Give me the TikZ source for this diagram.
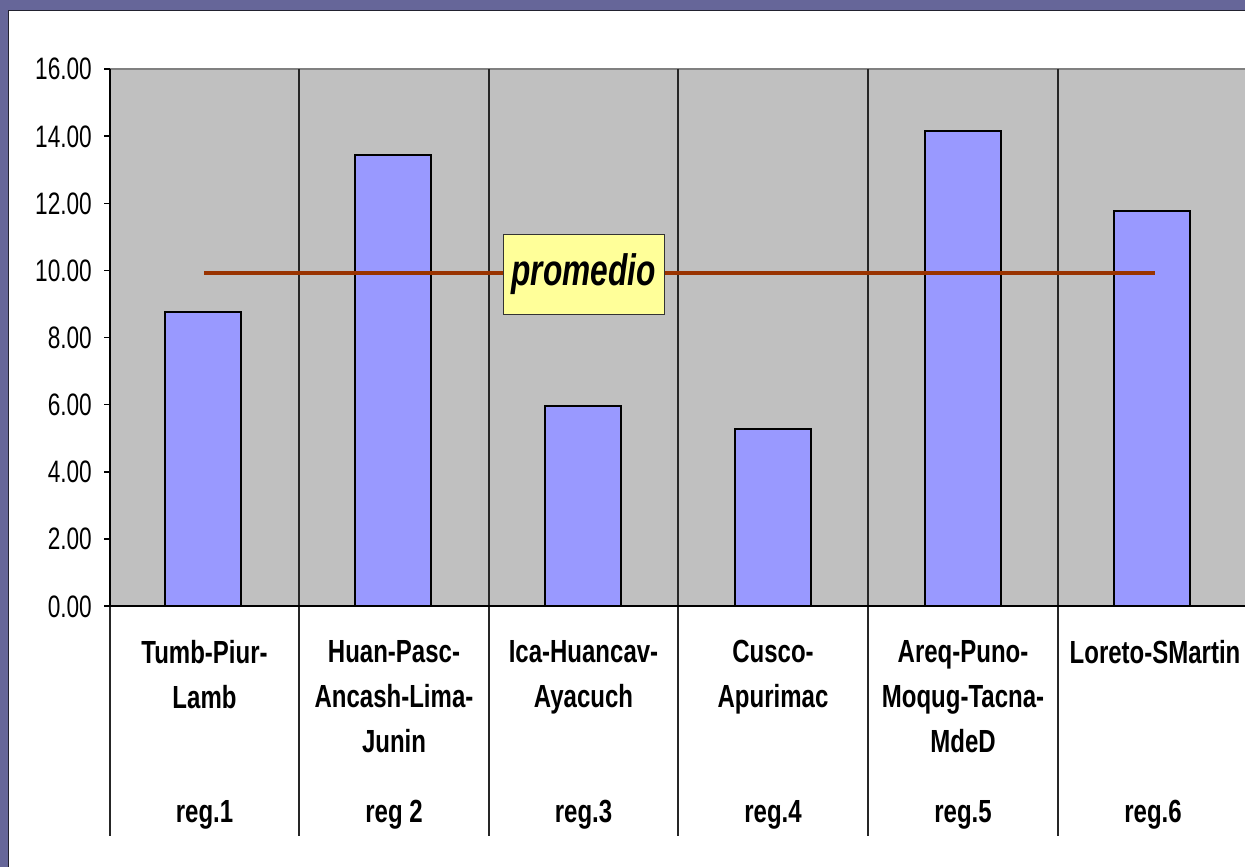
\documentclass[tikz,border=0pt]{standalone}
\usepackage{fontspec}
\setmainfont{Liberation Sans}
\definecolor{frame}{HTML}{666699}
\definecolor{frameline}{HTML}{22222F}
\definecolor{plotbg}{HTML}{C0C0C0}
\definecolor{plottop}{HTML}{808080}
\definecolor{barfill}{HTML}{9999FF}
\definecolor{avgline}{HTML}{993300}
\definecolor{boxfill}{HTML}{FFFF99}
\newcommand{\cx}[1]{\scalebox{0.75}[1]{#1}}
\newcommand{\cy}[1]{\scalebox{0.73}[1]{#1}}
\tikzset{
  catlabel/.style={anchor=north, inner sep=0pt, align=center, font=\fontsize{32}{45}\selectfont\bfseries},
  reglabel/.style={anchor=base, inner sep=0pt, font=\fontsize{32}{45}\selectfont\bfseries},
  ylabel/.style={anchor=base east, inner sep=0pt, font=\fontsize{31}{31}\selectfont},
  barbox/.style={fill=barfill, draw=black, line width=2pt},
  sepline/.style={draw=black!85, line width=1.3pt},
  axisline/.style={draw=black, line width=1.5pt},
}
\begin{document}
\begin{tikzpicture}[x=1pt,y=-1pt]
\useasboundingbox (0,0) rectangle (1245,867);
% background frame
\fill[frame] (0,0) rectangle (1245,867);
\fill[white] (9,11) rectangle (1245,867);
\draw[frameline, line width=1.5pt] (8.5,867) -- (8.5,10.5) -- (1245,10.5);
% plot area
\fill[plotbg] (110,69) rectangle (1245,606);
\draw[plottop, line width=2.5pt] (110,69) -- (1245,69);
% category separators
\foreach \x in {299,489,678,868,1058} {
  \draw[sepline] (\x,69) -- (\x,836);
}
\draw[sepline] (110,606) -- (110,836);
% bars
\draw[barbox] (165,606) rectangle (241,312);
\draw[barbox] (355,606) rectangle (431,155);
\draw[barbox] (545,606) rectangle (621,406);
\draw[barbox] (735,606) rectangle (811,429);
\draw[barbox] (925,606) rectangle (1001,131);
\draw[barbox] (1114,606) rectangle (1190,211);
% axes
\draw[axisline] (110,69) -- (110,606);
\draw[axisline] (104,606) -- (1245,606);
\foreach \v [count=\i from 0] in {0.00,2.00,4.00,6.00,8.00,10.00,12.00,14.00,16.00} {
  \pgfmathsetmacro{\yy}{606-\i*67.125}
  \draw[axisline] (104,\yy) -- (110,\yy);
  \node[ylabel] (y\i) at (92,\yy+11) {\cy{\v}};
}
% average line
\coordinate (avgL) at (204,273);
\coordinate (avgR) at (1155,273);
\draw[avgline, line width=4pt] (avgL) -- (avgR);
\node[draw=black!80, line width=1pt, fill=boxfill, minimum width=161pt, minimum height=80pt, inner sep=0pt,
      font=\fontsize{44}{44}\selectfont\bfseries\itshape] (prom) at (583.5,274) {\scalebox{0.72}[1]{promedio}};
% category labels
\node[catlabel] (c1) at (204.5,640) {\cx{Tumb-Piur-}\\\cx{Lamb}};
\node[catlabel] (c2) at (394,640) {\cx{Huan-Pasc-}\\\cx{Ancash-Lima-}\\\cx{Junin}};
\node[catlabel] (c3) at (583.5,640) {\cx{Ica-Huancav-}\\\cx{Ayacuch}};
\node[catlabel] (c4) at (773,640) {\cx{Cusco-}\\\cx{Apurimac}};
\node[catlabel] (c5) at (963,640) {\cx{Areq-Puno-}\\\cx{Moqug-Tacna-}\\\cx{MdeD}};
\node[catlabel] (c6) at (1155,640) {\cx{Loreto-SMartin}};
\node[reglabel] (r1) at (204.5,822) {\cx{reg.1}};
\node[reglabel] (r2) at (394,822) {\cx{reg 2}};
\node[reglabel] (r3) at (583.5,822) {\cx{reg.3}};
\node[reglabel] (r4) at (773,822) {\cx{reg.4}};
\node[reglabel] (r5) at (963,822) {\cx{reg.5}};
\node[reglabel] (r6) at (1153,822) {\cx{reg.6}};
\end{tikzpicture}
\end{document}
